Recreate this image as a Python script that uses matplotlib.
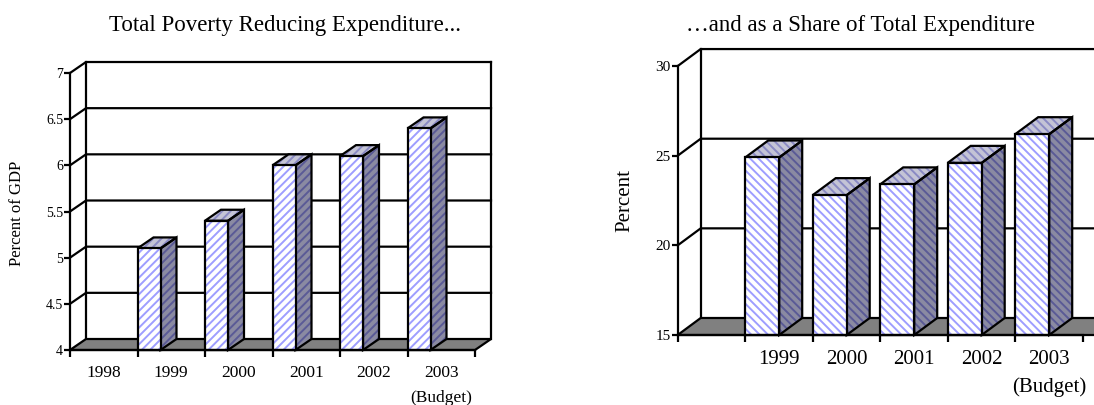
import numpy as np
import matplotlib
matplotlib.use("Agg")
import matplotlib.pyplot as plt
from matplotlib.patches import Polygon

plt.rcParams['font.family'] = ['Liberation Serif', 'DejaVu Serif']
plt.rcParams['hatch.linewidth'] = 1.4

# ---------------- data ----------------
left_title = "Total Poverty Reducing Expenditure..."
left_ylabel = "Percent of GDP"
left_categories = ["1998", "1999", "2000", "2001", "2002", "2003\n(Budget)"]
left_values = [np.nan, 5.1, 5.4, 6.0, 6.1, 6.4]
left_yticks = [4, 4.5, 5, 5.5, 6, 6.5, 7]
left_yticklabels = ["4", "4.5", "5", "5.5", "6", "6.5", "7"]

right_title = "\u2026and as a Share of Total Expenditure"
right_ylabel = "Percent"
right_categories = ["", "1999", "2000", "2001", "2002", "2003\n(Budget)"]
right_values = [np.nan, 24.9, 22.8, 23.4, 24.6, 26.2]
right_yticks = [15, 20, 25, 30]
right_yticklabels = ["15", "20", "25", "30"]

W, H = 1094, 405
fig = plt.figure(figsize=(W / 100, H / 100), dpi=100)

LW = 1.6
FLOOR = '#808080'


def make_axes(px_left, px_base, px_per_x, px_per_y, xmax, ymin, ymax):
    w = xmax * px_per_x
    h = (ymax - ymin) * px_per_y
    ax = fig.add_axes([px_left / W, (H - px_base) / H, w / W, h / H])
    ax.set_xlim(0, xmax)
    ax.set_ylim(ymin, ymax)
    ax.patch.set_visible(False)
    return ax


def hatched_poly(ax, pts, face, hatchcol, hatch, z):
    ax.add_patch(Polygon(pts, closed=True, facecolor=face, edgecolor='none',
                         lw=0, zorder=z, clip_on=False))
    ax.add_patch(Polygon(pts, closed=True, facecolor='none', edgecolor=hatchcol,
                         lw=0, hatch=hatch, zorder=z + 0.1, clip_on=False))
    ax.add_patch(Polygon(pts, closed=True, facecolor='none', edgecolor='black',
                         lw=LW, zorder=z + 0.2, clip_on=False, joinstyle='miter'))


def draw_chart(ax, cats, vals, yticks, yticklabels, dx, dy, bw, hatch,
               wall_right, tick_fs, cat_fs, cat_pad, cat_ls, ytick_pad):
    n = len(cats)
    ymin, ymax = yticks[0], yticks[-1]
    # back wall edges
    ax.plot([dx, dx], [ymin + dy, ymax + dy], color='black', lw=LW,
            clip_on=False, zorder=1)
    if wall_right is not None:
        ax.plot([wall_right, wall_right], [ymin + dy, ymax + dy], color='black',
                lw=LW, clip_on=False, zorder=1)
    xr = wall_right if wall_right is not None else ax.get_xlim()[1]
    # gridlines (left wall diagonal + back wall)
    for v in yticks[1:]:
        ax.plot([0, dx, xr], [v, v + dy, v + dy], color='black', lw=LW,
                clip_on=False, zorder=1, solid_joinstyle='miter')
    # floor
    fr = n + dx if wall_right is not None else xr + 1
    ax.add_patch(Polygon([(0, ymin), (n + (0 if wall_right is not None else 1), ymin),
                          (fr, ymin + dy), (dx, ymin + dy)],
                         closed=True, facecolor=FLOOR, edgecolor='black', lw=LW,
                         zorder=2, clip_on=False, joinstyle='miter'))
    # bars
    for i, v in enumerate(vals):
        if np.isnan(v):
            continue
        x0 = i
        x1 = i + bw
        front = [(x0, ymin), (x1, ymin), (x1, v), (x0, v)]
        side = [(x1, ymin), (x1 + dx, ymin + dy), (x1 + dx, v + dy), (x1, v)]
        top = [(x0, v), (x1, v), (x1 + dx, v + dy), (x0 + dx, v + dy)]
        hatched_poly(ax, side, '#8a8aa2', '#5a5a96', hatch, 3 + i)
        hatched_poly(ax, top, '#c4c4d6', '#8a8ac4', hatch, 3 + i)
        hatched_poly(ax, front, 'white', '#9e9eff', hatch, 3.5 + i)

    # axes / ticks
    for s in ['top', 'right']:
        ax.spines[s].set_visible(False)
    ax.spines['left'].set_bounds(ymin, ymax)
    ax.spines['bottom'].set_bounds(0, n)
    for s in ['left', 'bottom']:
        ax.spines[s].set_linewidth(LW)
        ax.spines[s].set_zorder(20)
    ax.set_yticks(yticks)
    ax.set_yticklabels(yticklabels, fontsize=tick_fs)
    ax.tick_params(axis='y', direction='out', length=4, width=LW, pad=ytick_pad)
    ax.set_xticks(np.arange(n + 1))
    ax.set_xticklabels([''] * (n + 1))
    ax.tick_params(axis='x', which='major', direction='out', length=5, width=LW)
    ax.set_xticks(np.arange(n) + 0.5, minor=True)
    ax.set_xticklabels(cats, minor=True, fontsize=cat_fs)
    ax.tick_params(axis='x', which='minor', length=0, pad=cat_pad)
    for t in ax.get_xticklabels(minor=True):
        t.set_linespacing(cat_ls)


# ---------------- left chart ----------------
axL = make_axes(70, 350, 67.5, 92.33, 6.4, 4, 7.2)
draw_chart(axL, left_categories, left_values, left_yticks, left_yticklabels,
           dx=16 / 67.5, dy=11 / 92.33, bw=23 / 67.5, hatch='////',
           wall_right=6 + 16 / 67.5, tick_fs=10, cat_fs=12.5, cat_pad=11,
           cat_ls=1.75, ytick_pad=1)
fig.text(285 / W, 1 - 25 / H, left_title, fontsize=16.5, ha='center', va='center')
fig.text(17 / W, 1 - 213 / H, left_ylabel, fontsize=12, rotation=90,
         ha='center', va='center')

# ---------------- right chart ----------------
axR = make_axes(677.7, 335, 67.5, 17.93, 6.5, 15, 31)
draw_chart(axR, right_categories, right_values, right_yticks, right_yticklabels,
           dx=23 / 67.5, dy=17 / 17.93, bw=34 / 67.5, hatch='\\\\\\\\',
           wall_right=None, tick_fs=11, cat_fs=15, cat_pad=11,
           cat_ls=1.55, ytick_pad=1)
fig.text(860 / W, 1 - 25 / H, right_title, fontsize=16.5, ha='center', va='center')
fig.text(625 / W, 1 - 200 / H, right_ylabel, fontsize=15, rotation=90,
         ha='center', va='center')

fig.savefig("out.png", dpi=100)
